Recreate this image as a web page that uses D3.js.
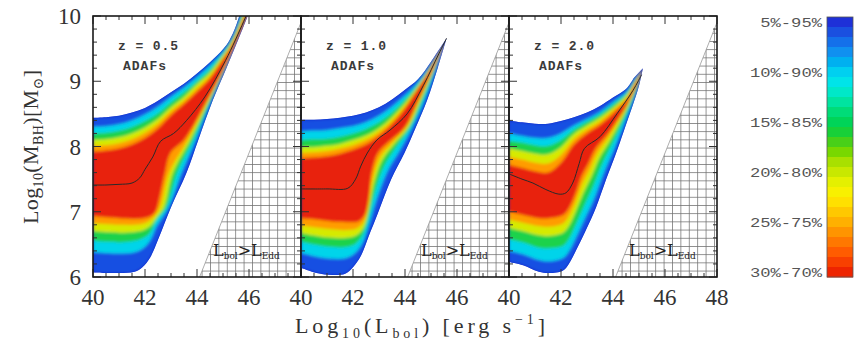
<!DOCTYPE html>
<html><head><meta charset="utf-8">
<script src="https://cdn.jsdelivr.net/npm/d3@7"></script>
<style>body{margin:0;background:#fff}svg{display:block}</style>
</head><body>
<svg id="c" width="857" height="343"></svg>
<script>
// ---------------- DATA ----------------
const panelLabels = ["z = 0.5", "z = 1.0", "z = 2.0"];
const modelLabel = "ADAFs";
const xTickValues = [40, 42, 44, 46, 48];
const yTickValues = [6, 7, 8, 9, 10];
const levelPct = [5, 10, 15, 20, 25, 30];
const rimColor = "#0c22c8";
const bandColors = ["#1650e2", "#00d4ea", "#1cd24c", "#d6ea00", "#ff9c00", "#e8240a"];
const colorbarLabels = ["5%-95%", "10%-90%", "15%-85%", "20%-80%", "25%-75%", "30%-70%"];
const colorbarPct = [5,6,7,8,9,10,11,12,13,14,15,16,17,18,19,20,21,22,23,24,25,26,27,28,29,30];
const colorbarColors = ["#1e30d8","#1a50e0","#1470ea","#1090f0","#00b0f0","#00d0f0","#00e4e8","#00e8c8",
  "#00e4a0","#00dc78","#00d458","#18d038","#48d018","#78d800","#a8e000","#c8e800","#e4f000","#f8f000",
  "#ffe000","#ffc800","#ffb000","#ff9400","#ff7800","#ff5c00","#f84000","#ee2400"];
const eddLimit = [[44.1, 6], [48, 6], [48, 9.9]];   // L_bol > L_Edd region

// z = 0.5 : lower percentile contours (5..30) and upper (95..70), [log L, log M]
const z05_lo05 = [[40,6.07],[41,6.06],[41.6,6.08],[41.9,6.15],[42.2,6.3],[42.5,6.57],[43.0,7.07],[43.6,7.6],[44.05,8.1],[44.6,8.7],[45.15,9.22],[45.7,9.75],[46.15,10.2]];
const z05_lo10 = [[40,6.38],[41,6.36],[41.6,6.38],[41.95,6.45],[42.2,6.56],[42.45,6.78],[42.91,7.07],[43.41,7.6],[43.95,8.1],[44.55,8.7],[45.13,9.22],[45.69,9.75],[46.14,10.2]];
const z05_lo15 = [[40,6.55],[41,6.53],[41.6,6.55],[41.95,6.6],[42.2,6.68],[42.45,6.88],[42.82,7.07],[43.24,7.6],[43.85,8.1],[44.51,8.7],[45.11,9.22],[45.68,9.75],[46.13,10.2]];
const z05_lo20 = [[40,6.7],[41,6.68],[41.6,6.69],[41.95,6.72],[42.2,6.78],[42.48,6.93],[42.73,7.07],[43.08,7.6],[43.74,8.1],[44.47,8.71],[45.09,9.22],[45.68,9.75],[46.12,10.2]];
const z05_lo25 = [[40,6.82],[41,6.8],[41.6,6.8],[41.95,6.82],[42.2,6.87],[42.42,6.96],[42.62,7.12],[42.93,7.6],[43.64,8.1],[44.43,8.71],[45.07,9.22],[45.67,9.75],[46.11,10.2]];
const z05_lo30 = [[40,6.93],[41,6.9],[41.6,6.89],[41.95,6.9],[42.2,6.93],[42.4,7.0],[42.55,7.2],[42.77,7.6],[42.98,7.9],[43.54,8.12],[44.4,8.72],[45.05,9.22],[45.66,9.75],[46.1,10.2]];
const z05_hi95 = [[45.78,10.2],[45.5,9.85],[45.25,9.63],[45,9.49],[44.5,9.29],[44,9.12],[43.5,8.96],[43,8.83],[42.5,8.7],[42,8.59],[41.5,8.52],[41,8.47],[40.5,8.45],[40,8.44]];
const z05_hi90 = [[45.84,10.2],[45.5,9.81],[45.25,9.6],[45,9.46],[44.5,9.24],[44,9.06],[43.5,8.9],[43,8.76],[42.5,8.61],[42,8.49],[41.5,8.4],[41,8.34],[40.5,8.31],[40,8.3]];
const z05_hi85 = [[45.9,10.2],[45.5,9.77],[45.25,9.57],[45,9.42],[44.5,9.18],[44,9.0],[43.5,8.83],[43,8.68],[42.5,8.51],[42,8.39],[41.5,8.3],[41,8.24],[40.5,8.21],[40,8.2]];
const z05_hi80 = [[45.95,10.2],[45.5,9.74],[45.25,9.54],[45,9.39],[44.5,9.13],[44,8.95],[43.5,8.76],[43,8.6],[42.5,8.42],[42,8.29],[41.5,8.2],[41,8.14],[40.5,8.11],[40,8.1]];
const z05_hi75 = [[46.0,10.2],[45.5,9.7],[45.25,9.51],[45,9.36],[44.5,9.08],[44,8.89],[43.5,8.7],[43,8.54],[42.5,8.35],[42,8.21],[41.5,8.11],[41,8.05],[40.5,8.02],[40,8.01]];
const z05_hi70 = [[46.05,10.2],[45.5,9.67],[45.25,9.48],[45,9.33],[44.5,9.04],[44,8.84],[43.5,8.65],[43,8.48],[42.5,8.28],[42,8.13],[41.5,8.03],[41,7.97],[40.5,7.94],[40,7.92]];
const z05_median = [[40,7.41],[40.5,7.41],[41,7.42],[41.5,7.44],[41.8,7.52],[42.0,7.65],[42.3,7.84],[42.6,8.08],[43.1,8.2],[43.6,8.4],[44.3,8.76],[45.1,9.32],[45.8,9.92],[46.1,10.2]];

// z = 1.0
const z10_lo05 = [[40,6.14],[40.6,6.06],[41.2,6.03],[41.7,6.05],[42.0,6.15],[42.3,6.32],[42.6,6.62],[42.96,6.98],[43.46,7.49],[43.98,7.9],[44.4,8.28],[44.85,8.71],[45.27,9.22],[45.6,9.66]];
const z10_lo10 = [[40,6.37],[40.6,6.31],[41.2,6.28],[41.73,6.29],[42.06,6.36],[42.35,6.51],[42.6,6.79],[42.89,7.17],[43.31,7.61],[43.81,7.95],[44.28,8.29],[44.75,8.71],[45.22,9.22],[45.6,9.66]];
const z10_lo15 = [[40,6.54],[40.6,6.49],[41.2,6.46],[41.75,6.46],[42.1,6.51],[42.38,6.65],[42.6,6.92],[42.84,7.3],[43.2,7.7],[43.68,8.0],[44.19,8.29],[44.67,8.71],[45.18,9.22],[45.6,9.66]];
const z10_lo20 = [[40,6.67],[40.6,6.63],[41.2,6.6],[41.77,6.6],[42.14,6.64],[42.41,6.76],[42.6,7.03],[42.79,7.41],[43.11,7.78],[43.57,8.03],[44.12,8.29],[44.6,8.71],[45.15,9.22],[45.6,9.66]];
const z10_lo25 = [[40,6.79],[40.6,6.76],[41.2,6.73],[41.79,6.72],[42.17,6.75],[42.43,6.86],[42.6,7.11],[42.76,7.51],[43.04,7.84],[43.49,8.05],[44.06,8.3],[44.55,8.71],[45.13,9.22],[45.6,9.66]];
const z10_lo30 = [[40,6.9],[40.6,6.88],[41.2,6.85],[41.8,6.84],[42.2,6.85],[42.45,6.95],[42.6,7.2],[42.72,7.6],[42.96,7.9],[43.4,8.08],[44.0,8.3],[44.5,8.71],[45.1,9.22],[45.6,9.66]];
const z10_hi95 = [[45.4,9.54],[45,9.3],[44.5,9.03],[44,8.87],[43.5,8.72],[43,8.6],[42.5,8.52],[42,8.47],[41.5,8.44],[41,8.42],[40.5,8.41],[40,8.41]];
const z10_hi90 = [[45.4,9.53],[45,9.27],[44.5,8.99],[44,8.78],[43.5,8.61],[43,8.47],[42.5,8.37],[42,8.31],[41.5,8.28],[41,8.25],[40.5,8.24],[40,8.23]];
const z10_hi85 = [[45.4,9.52],[45,9.25],[44.5,8.95],[44,8.72],[43.5,8.52],[43,8.37],[42.5,8.27],[42,8.2],[41.5,8.15],[41,8.12],[40.5,8.11],[40,8.1]];
const z10_hi80 = [[45.4,9.51],[45,9.23],[44.5,8.92],[44,8.66],[43.5,8.45],[43,8.28],[42.5,8.17],[42,8.1],[41.5,8.04],[41,8.01],[40.5,7.99],[40,7.99]];
const z10_hi75 = [[45.4,9.51],[45,9.21],[44.5,8.9],[44,8.62],[43.5,8.39],[43,8.22],[42.5,8.1],[42,8.02],[41.5,7.97],[41,7.93],[40.5,7.91],[40,7.9]];
const z10_hi70 = [[45.4,9.5],[45,9.2],[44.5,8.88],[44,8.58],[43.5,8.34],[43,8.16],[42.5,8.03],[42,7.95],[41.5,7.89],[41,7.85],[40.5,7.83],[40,7.82]];
const z10_median = [[40,7.35],[41,7.35],[41.8,7.36],[42.1,7.5],[42.3,7.7],[42.55,7.9],[42.92,8.1],[43.42,8.25],[44.08,8.5],[44.7,8.93],[45.3,9.42],[45.6,9.66]];

// z = 2.0
const z20_lo05 = [[40,6.23],[40.54,6.18],[41.15,6.08],[41.54,6.06],[42.08,6.1],[42.3,6.2],[42.58,6.41],[42.96,6.72],[43.35,7.07],[43.73,7.49],[44.12,7.9],[44.4,8.22],[44.75,8.62],[45.0,8.93],[45.15,9.2]];
const z20_lo10 = [[40,6.4],[40.54,6.35],[41.15,6.26],[41.54,6.24],[42.08,6.29],[42.3,6.39],[42.58,6.61],[42.92,6.9],[43.29,7.22],[43.65,7.6],[44.04,7.96],[44.34,8.26],[44.7,8.62],[44.98,8.93],[45.15,9.2]];
const z20_lo15 = [[40,6.58],[40.54,6.53],[41.15,6.45],[41.54,6.44],[42.08,6.48],[42.3,6.58],[42.58,6.81],[42.89,7.09],[43.23,7.38],[43.56,7.71],[43.96,8.03],[44.27,8.29],[44.64,8.62],[44.96,8.94],[45.15,9.2]];
const z20_lo20 = [[40,6.75],[40.54,6.7],[41.15,6.64],[41.54,6.63],[42.08,6.68],[42.3,6.78],[42.58,7.02],[42.85,7.28],[43.17,7.54],[43.47,7.82],[43.88,8.09],[44.21,8.33],[44.58,8.62],[44.93,8.94],[45.15,9.2]];
const z20_lo25 = [[40,6.88],[40.54,6.83],[41.15,6.78],[41.54,6.77],[42.08,6.82],[42.3,6.93],[42.58,7.17],[42.82,7.43],[43.12,7.66],[43.41,7.91],[43.82,8.14],[44.16,8.36],[44.54,8.62],[44.92,8.95],[45.15,9.2]];
const z20_lo30 = [[40,7.0],[40.54,6.95],[41.15,6.9],[41.54,6.9],[42.08,6.95],[42.3,7.05],[42.58,7.3],[42.8,7.55],[43.08,7.76],[43.35,7.98],[43.77,8.18],[44.12,8.38],[44.5,8.62],[44.9,8.95],[45.15,9.2]];
const z20_hi95 = [[44.8,9.05],[44.5,8.88],[44,8.75],[43.5,8.62],[43,8.52],[42.5,8.45],[42,8.39],[41.5,8.35],[41,8.35],[40.5,8.37],[40,8.4]];
const z20_hi90 = [[44.8,9.02],[44.5,8.83],[44,8.68],[43.5,8.53],[43,8.42],[42.5,8.32],[42,8.2],[41.5,8.13],[41,8.13],[40.5,8.16],[40,8.2]];
const z20_hi85 = [[44.8,8.99],[44.5,8.8],[44,8.64],[43.5,8.49],[43,8.38],[42.5,8.26],[42,8.1],[41.5,8.01],[41,8.02],[40.5,8.06],[40,8.09]];
const z20_hi80 = [[44.8,8.96],[44.5,8.77],[44,8.59],[43.5,8.44],[43,8.32],[42.5,8.19],[42,7.99],[41.5,7.88],[41,7.89],[40.5,7.93],[40,7.97]];
const z20_hi75 = [[44.8,8.94],[44.5,8.73],[44,8.55],[43.5,8.38],[43,8.26],[42.5,8.11],[42,7.87],[41.5,7.74],[41,7.75],[40.5,7.8],[40,7.84]];
const z20_hi70 = [[44.8,8.92],[44.5,8.7],[44,8.5],[43.5,8.33],[43,8.2],[42.5,8.03],[42,7.75],[41.5,7.6],[41,7.62],[40.5,7.67],[40,7.72]];
const z20_median = [[40,7.58],[40.5,7.5],[40.92,7.44],[41.42,7.34],[41.92,7.27],[42.19,7.29],[42.45,7.44],[42.7,7.74],[42.9,7.97],[43.5,8.15],[44.15,8.5],[44.77,8.86],[45.1,9.1]];

// ---------------- CHART ----------------
const svg = d3.select("#c");
const defs = svg.append("defs");
defs.append("filter").attr("id", "soft").attr("x", "-5%").attr("y", "-5%").attr("width", "110%").attr("height", "110%")
  .append("feGaussianBlur").attr("stdDeviation", 1.4);
const pat = defs.append("pattern").attr("id", "hatch").attr("patternUnits", "userSpaceOnUse")
  .attr("width", 8.4).attr("height", 8.2);
pat.append("path").attr("d", "M0.4,0 V8.2 M0,0.4 H8.4").attr("stroke", "#707070").attr("stroke-width", 0.8).attr("fill", "none");

const panels = [
  { lo: [z05_lo05, z05_lo10, z05_lo15, z05_lo20, z05_lo25, z05_lo30], hi: [z05_hi95, z05_hi90, z05_hi85, z05_hi80, z05_hi75, z05_hi70], med: z05_median },
  { lo: [z10_lo05, z10_lo10, z10_lo15, z10_lo20, z10_lo25, z10_lo30], hi: [z10_hi95, z10_hi90, z10_hi85, z10_hi80, z10_hi75, z10_hi70], med: z10_median },
  { lo: [z20_lo05, z20_lo10, z20_lo15, z20_lo20, z20_lo25, z20_lo30], hi: [z20_hi95, z20_hi90, z20_hi85, z20_hi80, z20_hi75, z20_hi70], med: z20_median }
];
const panelLeft = [93, 301, 509], panelW = 208;
const yTop = 16, yBot = 277;
const y = d3.scaleLinear().domain([6, 10]).range([yBot, yTop]);
const serif = "'Liberation Serif','DejaVu Serif',serif";

panels.forEach((p, i) => {
  const x = d3.scaleLinear().domain([40, 48]).range([panelLeft[i], panelLeft[i] + panelW]);
  const line = d3.line().x(d => x(d[0])).y(d => y(d[1])).curve(d3.curveCatmullRom.alpha(0.5));
  const contour = (lo, hi) => line(lo) + "L" + line(hi).slice(1) + "Z";
  const paths = p.lo.map((lo, k) => contour(lo, p.hi[k]));

  defs.append("clipPath").attr("id", "cp" + i).append("rect")
    .attr("x", x(40)).attr("y", yTop).attr("width", x(48) - x(40)).attr("height", yBot - yTop);
  defs.append("clipPath").attr("id", "co" + i).append("path").attr("d", paths[0]);

  const g = svg.append("g").attr("clip-path", `url(#cp${i})`);
  const eddPath = "M" + eddLimit.map(d => [x(d[0]), y(d[1])].join(",")).join("L") + "Z";
  g.append("path").attr("d", eddPath).attr("fill", "url(#hatch)");
  g.append("line").attr("x1", x(eddLimit[0][0])).attr("y1", y(eddLimit[0][1]))
    .attr("x2", x(eddLimit[2][0])).attr("y2", y(eddLimit[2][1])).attr("stroke", "#999").attr("stroke-width", 0.8);

  g.append("path").attr("d", paths[0]).attr("fill", rimColor);
  const gb = g.append("g").attr("clip-path", `url(#co${i})`).append("g").attr("filter", "url(#soft)");
  paths.forEach((d, k) => gb.append("path").attr("d", d).attr("fill", bandColors[k]));
  g.append("path").attr("d", line(p.med)).attr("fill", "none").attr("stroke", "#2a2a2a").attr("stroke-width", 1);

  const t = svg.append("text").attr("x", x(40) + 120).attr("y", 256)
    .attr("font-family", "'DejaVu Serif',serif").attr("font-size", 16).attr("fill", "#222");
  t.append("tspan").text("L");
  t.append("tspan").attr("font-size", 9).attr("dy", 3).text("bol");
  t.append("tspan").attr("dy", -3).text(">L");
  t.append("tspan").attr("font-size", 9).attr("dy", 3).text("Edd");

  svg.append("text").attr("x", x(40) + 25).attr("y", 50).attr("font-family", "'Liberation Mono',monospace")
    .attr("font-size", 13).attr("font-weight", "bold").attr("letter-spacing", 0.9).attr("fill", "#3a3a3a").text(panelLabels[i]);
  svg.append("text").attr("x", x(40) + 30).attr("y", 70).attr("font-family", "'Liberation Mono',monospace")
    .attr("font-size", 13).attr("font-weight", "bold").attr("letter-spacing", 1).attr("fill", "#3a3a3a").text(modelLabel);

  const tk = svg.append("g").attr("stroke", "#333").attr("stroke-width", 1);
  const xMajor = x.ticks(4), xMinor = x.ticks(16);
  xMinor.forEach(v => {
    const L = xMajor.includes(v) ? 8 : 4;
    tk.append("line").attr("x1", x(v)).attr("x2", x(v)).attr("y1", yBot).attr("y2", yBot - L);
    tk.append("line").attr("x1", x(v)).attr("x2", x(v)).attr("y1", yTop).attr("y2", yTop + L);
  });
  const yMajor = y.ticks(4), yMinor = y.ticks(20);
  yMinor.forEach(v => {
    const L = yMajor.includes(v) ? 8 : 4;
    tk.append("line").attr("y1", y(v)).attr("y2", y(v)).attr("x1", x(40)).attr("x2", x(40) + L);
    tk.append("line").attr("y1", y(v)).attr("y2", y(v)).attr("x1", x(48)).attr("x2", x(48) - L);
  });
  svg.append("rect").attr("x", x(40)).attr("y", yTop).attr("width", x(48) - x(40)).attr("height", yBot - yTop)
    .attr("fill", "none").attr("stroke", "#1a1a1a").attr("stroke-width", 1.6);

  const labs = i < 2 ? xTickValues.slice(0, 4) : xTickValues;
  labs.forEach(v => svg.append("text").attr("x", x(v)).attr("y", 305).attr("text-anchor", "middle")
    .attr("font-family", serif).attr("font-size", 23).attr("fill", "#333").text(v));
  if (i === 0) {
    yTickValues.forEach(v => svg.append("text").attr("x", 81).attr("y", y(v) + 8).attr("text-anchor", "end")
      .attr("font-family", serif).attr("font-size", 23).attr("fill", "#333").text(v));
  }
});

const xt = svg.append("text").attr("x", 420).attr("y", 333).attr("text-anchor", "middle")
  .attr("font-family", serif).attr("font-size", 22).attr("fill", "#333")
  .attr("textLength", 250).attr("lengthAdjust", "spacing");
xt.append("tspan").text("Log");
xt.append("tspan").attr("font-size", 14).attr("dy", 5).text("10");
xt.append("tspan").attr("dy", -5).text("(L");
xt.append("tspan").attr("font-size", 14).attr("dy", 5).text("bol");
xt.append("tspan").attr("dy", -5).text(") [erg s");
xt.append("tspan").attr("font-size", 14).attr("dy", -9).text("−1");
xt.append("tspan").attr("dy", 9).text("]");

const yt = svg.append("text").attr("transform", "translate(38,147) rotate(-90)").attr("text-anchor", "middle")
  .attr("font-family", serif).attr("font-size", 22).attr("fill", "#333")
  .attr("textLength", 154).attr("lengthAdjust", "spacing");
yt.append("tspan").text("Log");
yt.append("tspan").attr("font-size", 14).attr("dy", 5).text("10");
yt.append("tspan").attr("dy", -5).text("(M");
yt.append("tspan").attr("font-size", 14).attr("dy", 5).text("BH");
yt.append("tspan").attr("dy", -5).text(")[M");
yt.append("tspan").attr("font-size", 14).attr("dy", 5).text("⊙");
yt.append("tspan").attr("dy", -5).text("]");

const cbY = d3.scaleBand().domain(colorbarPct).range([17, 277]);
const cb = svg.append("g");
colorbarPct.forEach((p, k) => cb.append("rect").attr("x", 827).attr("width", 26)
  .attr("y", cbY(p)).attr("height", cbY.bandwidth() + 0.5).attr("fill", colorbarColors[k]));
cb.append("rect").attr("x", 827).attr("y", 17).attr("width", 26).attr("height", 260)
  .attr("fill", "none").attr("stroke", "#555").attr("stroke-width", 0.8);
levelPct.forEach((p, k) => cb.append("text").attr("x", 822).attr("y", cbY(p) + cbY.bandwidth() / 2 + 5)
  .attr("text-anchor", "end").attr("font-family", "'Liberation Mono',monospace").attr("font-size", 13)
  .attr("fill", "#555").attr("textLength", colorbarLabels[k].length * 10.3).attr("lengthAdjust", "spacingAndGlyphs")
  .text(colorbarLabels[k]));
</script>
</body></html>
